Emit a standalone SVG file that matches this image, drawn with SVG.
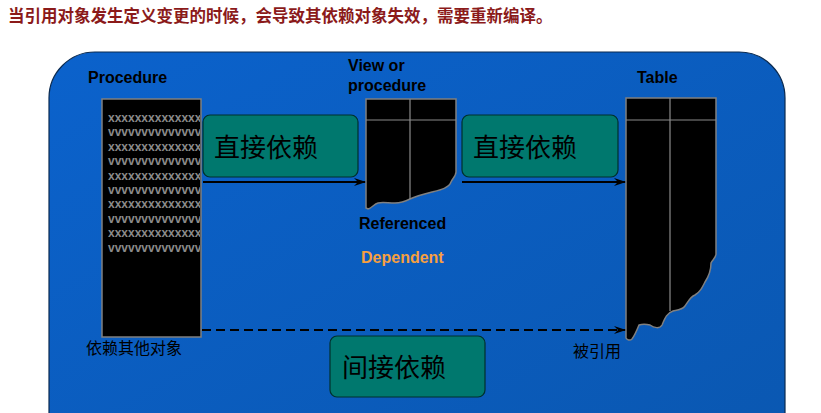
<svg xmlns="http://www.w3.org/2000/svg" width="821" height="413" viewBox="0 0 821 413">
<defs>
<linearGradient id="bg" x1="0" y1="0" x2="1" y2="1">
<stop offset="0" stop-color="#0b62cc"/>
<stop offset="1" stop-color="#0a57b0"/>
</linearGradient>
<marker id="ah" viewBox="0 0 12 10" refX="11" refY="5" markerWidth="12" markerHeight="10" markerUnits="userSpaceOnUse" orient="auto">
<path d="M0,1 L12,5 L0,9 L4,5 Z" fill="#000"/>
</marker>
<clipPath id="pc"><rect x="103" y="100" width="97" height="236"/></clipPath>
<style>
.lbl{font-family:"Liberation Sans",Arial,sans-serif;font-weight:bold;font-size:16px;fill:#000}
.cn{font-family:"Noto Sans CJK SC","Liberation Sans",sans-serif;fill:#000}
.gbox{fill:#00786e;stroke:#00302c;stroke-width:1.2}
.obj{fill:#000;stroke:#808080;stroke-width:1.5}
.grid{stroke:#8a8a8a;stroke-width:1.2;fill:none}
.rows{font-family:"Liberation Sans",Arial,sans-serif;font-weight:bold;font-size:12px;fill:#8a8a8a}
.conn{stroke:#000;stroke-width:2.2;fill:none}
</style>
</defs>
<rect width="821" height="413" fill="#fff"/>
<text x="8" y="22" font-family="'Noto Sans CJK SC',sans-serif" font-size="16.5" font-weight="bold" fill="#8b1a1a">当引用对象发生定义变更的时候，会导致其依赖对象失效，需要重新编译。</text>
<rect x="49" y="52" width="736" height="420" rx="46" ry="46" fill="url(#bg)" stroke="#0a2a50" stroke-width="1.2"/>

<g id="procedure">
<text class="lbl" x="88" y="83">Procedure</text>
<rect class="obj" x="102" y="99" width="99" height="238"/>
<g class="rows" clip-path="url(#pc)">
<text x="108" y="122">xxxxxxxxxxxxxxxx</text>
<text x="108" y="136">vvvvvvvvvvvvvvvv</text>
<text x="108" y="151">xxxxxxxxxxxxxxxx</text>
<text x="108" y="165">vvvvvvvvvvvvvvvv</text>
<text x="108" y="180">xxxxxxxxxxxxxxxx</text>
<text x="108" y="194">vvvvvvvvvvvvvvvv</text>
<text x="108" y="208">xxxxxxxxxxxxxxxx</text>
<text x="108" y="223">vvvvvvvvvvvvvvvv</text>
<text x="108" y="237">xxxxxxxxxxxxxxxx</text>
<text x="108" y="252">vvvvvvvvvvvvvvvv</text>
</g>
<text class="cn" x="86" y="354" font-size="16">依赖其他对象</text>
</g>

<g id="view">
<text class="lbl" x="348" y="71">View or</text>
<text class="lbl" x="348" y="91">procedure</text>
<path class="obj" d="M366,99 H456 V172 C456,176 452,179 451,182 C449,188 440,190 432,192 C424,194 416,196 410,199 C404,202 400,203 395,203 C388,203 382,202 378,203 C374,204 372,208 368,209 L366,208 Z"/>
<path class="grid" d="M366,120 H456 M410,99 V199"/>
<text class="lbl" x="359" y="229">Referenced</text>
<text class="lbl" x="361" y="263" style="fill:#f7a040">Dependent</text>
</g>

<g id="table">
<text class="lbl" x="637" y="83">Table</text>
<path class="obj" d="M626,98 H716 V254 C716,258 712,260 711,263 C711,270 709,276 705,282 C702,288 700,292 695,295 C690,297 688,302 685,306 C682,310 678,310 673,311 C667,313 665,318 662,325 C660,329 654,328 650,325 C646,324 642,324 639,325 C637,330 635,335 632,339 C630,341 627,340 626,338 Z"/>
<path class="grid" d="M626,120 H716 M670,98 V311"/>
<text class="cn" x="573" y="357" font-size="16">被引用</text>
</g>

<g id="direct1">
<rect class="gbox" x="203" y="115" width="155" height="62" rx="7"/>
<text class="cn" x="214" y="157" font-size="26">直接依赖</text>
</g>
<g id="direct2">
<rect class="gbox" x="462" y="115" width="156" height="62" rx="7"/>
<text class="cn" x="473" y="157" font-size="26">直接依赖</text>
</g>
<g id="indirect">
<rect class="gbox" x="330" y="336" width="155" height="61" rx="7"/>
<text class="cn" x="342" y="377" font-size="26">间接依赖</text>
</g>

<g id="connectors">
<line class="conn" x1="203" y1="182" x2="365" y2="182" marker-end="url(#ah)"/>
<line class="conn" x1="462" y1="182" x2="625" y2="182" marker-end="url(#ah)"/>
<line class="conn" x1="202" y1="330" x2="625" y2="330" stroke-dasharray="9,5" marker-end="url(#ah)"/>
</g>
</svg>
